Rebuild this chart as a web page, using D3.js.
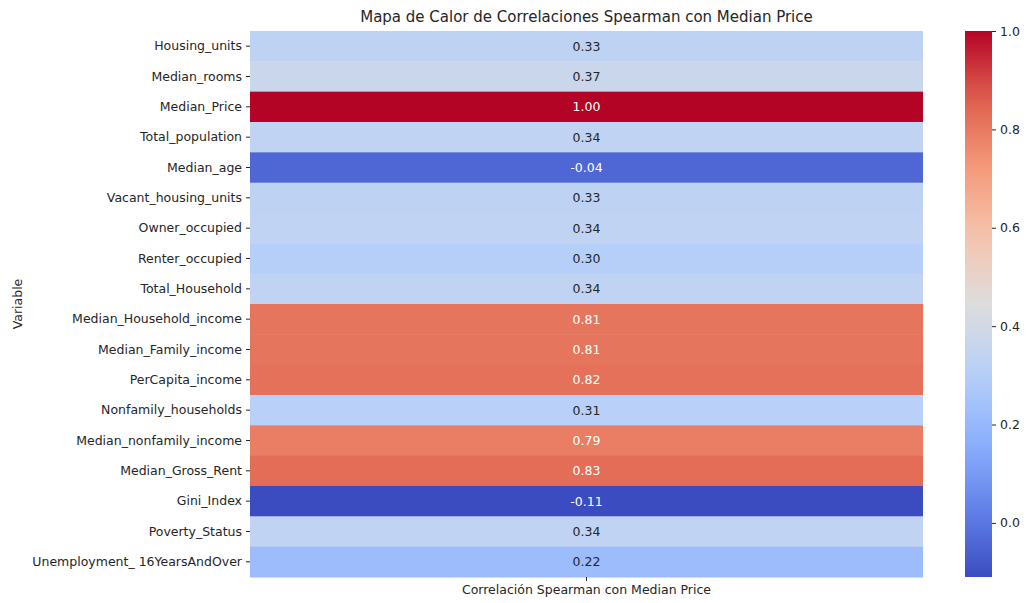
<!DOCTYPE html>
<html>
<head>
<meta charset="utf-8">
<script src="https://cdn.jsdelivr.net/npm/d3@7"></script>
<style>
  body { margin: 0; background: #fff; }
  text { font-family: "DejaVu Sans", sans-serif; fill: #262626; }
  .axis path { display: none; }
  .axis line { stroke: #262626; }
</style>
</head>
<body>
<script>
// data
var variables = ["Housing_units", "Median_rooms", "Median_Price", "Total_population", "Median_age",
  "Vacant_housing_units", "Owner_occupied", "Renter_occupied", "Total_Household",
  "Median_Household_income", "Median_Family_income", "PerCapita_income", "Nonfamily_households",
  "Median_nonfamily_income", "Median_Gross_Rent", "Gini_Index", "Poverty_Status",
  "Unemployment_ 16YearsAndOver"]
var corrValues = [0.33, 0.37, 1.00, 0.34, -0.04, 0.33, 0.34, 0.30, 0.34,
  0.81, 0.81, 0.82, 0.31, 0.79, 0.83, -0.11, 0.34, 0.22]
var columnLabel = ["Correlación Spearman con Median Price"]
var cbarTicks = [0.0, 0.2, 0.4, 0.6, 0.8, 1.0]

// coolwarm control colours
var coolwarm = ["#3b4cc0", "#6282ea", "#8db0fe", "#b8d0f9", "#dddddd", "#f5c4ad", "#f49a7b", "#de604d", "#b40426"]
var interp = d3.piecewise(d3.interpolateRgb, coolwarm)

var vmin = d3.min(corrValues), vmax = d3.max(corrValues)
var color = d3.scaleSequential(interp).domain([vmin, vmax])

var svg = d3.select("body").append("svg").attr("width", 1028).attr("height", 603)

// heatmap box (window.top is reserved, so use other names)
var hmLeft = 250, hmRight = 923, hmTop = 31, hmBottom = 577

var xScale = d3.scaleBand().domain(columnLabel).range([hmLeft, hmRight])
var yScale = d3.scaleBand().domain(variables).range([hmTop, hmBottom])

// cells
svg.selectAll("rect.cell")
    .data(corrValues)
  .enter().append("rect")
    .attr("class", "cell")
    .attr("x", xScale(columnLabel[0]))
    .attr("y", function(d, i) { return yScale(variables[i]); })
    .attr("width", xScale.bandwidth())
    .attr("height", yScale.bandwidth() + 0.5)
    .attr("fill", function(d) { return color(d); })

// luminance like seaborn
function lum(c) {
  var rgb = d3.rgb(c)
  var chans = [rgb.r, rgb.g, rgb.b].map(function(v) {
    v = v / 255
    return v <= 0.03928 ? v / 12.92 : Math.pow((v + 0.055) / 1.055, 2.4)
  })
  return 0.2126 * chans[0] + 0.7152 * chans[1] + 0.0722 * chans[2]
}

svg.selectAll("text.annot")
    .data(corrValues)
  .enter().append("text")
    .attr("class", "annot")
    .attr("x", xScale(columnLabel[0]) + xScale.bandwidth() / 2)
    .attr("y", function(d, i) { return yScale(variables[i]) + yScale.bandwidth() / 2; })
    .attr("dy", "0.35em")
    .attr("text-anchor", "middle")
    .style("font-size", "12.5px")
    .style("fill", function(d) { return lum(color(d)) > 0.408 ? "#262626" : "#ffffff"; })
    .text(function(d) { return d.toFixed(2); })

// axes
svg.append("g")
    .attr("class", "axis")
    .attr("transform", "translate(" + hmLeft + ",0)")
    .call(d3.axisLeft(yScale).tickSize(4).tickPadding(4))
    .selectAll("text").style("font-size", "12.5px").style("fill", "#262626")

svg.append("g")
    .attr("class", "axis")
    .attr("transform", "translate(0," + hmBottom + ")")
    .call(d3.axisBottom(xScale).tickSize(4).tickPadding(4))
    .selectAll("text").style("font-size", "12.5px").style("fill", "#262626")

// titles
svg.append("text")
    .attr("x", (hmLeft + hmRight) / 2)
    .attr("y", 22)
    .attr("text-anchor", "middle")
    .style("font-size", "15px")
    .text("Mapa de Calor de Correlaciones Spearman con Median Price")

svg.append("text")
    .attr("text-anchor", "middle")
    .attr("transform", "translate(22," + ((hmTop + hmBottom) / 2) + ")rotate(-90)")
    .style("font-size", "12.5px")
    .text("Variable")

// colorbar
var cbLeft = 965, cbWidth = 27
var cbScale = d3.scaleLinear().domain([vmin, vmax]).range([hmBottom, hmTop])

var defs = svg.append("defs")
var grad = defs.append("linearGradient")
    .attr("id", "cbar")
    .attr("x1", "0%").attr("y1", "100%")
    .attr("x2", "0%").attr("y2", "0%")
d3.range(0, 1.0001, 0.05).forEach(function(t) {
  grad.append("stop")
      .attr("offset", (t * 100) + "%")
      .attr("stop-color", interp(t))
})

svg.append("rect")
    .attr("x", cbLeft)
    .attr("y", hmTop)
    .attr("width", cbWidth)
    .attr("height", hmBottom - hmTop)
    .attr("fill", "url(#cbar)")

svg.append("g")
    .attr("class", "axis")
    .attr("transform", "translate(" + (cbLeft + cbWidth) + ",0)")
    .call(d3.axisRight(cbScale).tickValues(cbarTicks).tickFormat(d3.format(".1f")).tickSize(4).tickPadding(4))
    .selectAll("text").style("font-size", "12.5px").style("fill", "#262626")
</script>
</body>
</html>
